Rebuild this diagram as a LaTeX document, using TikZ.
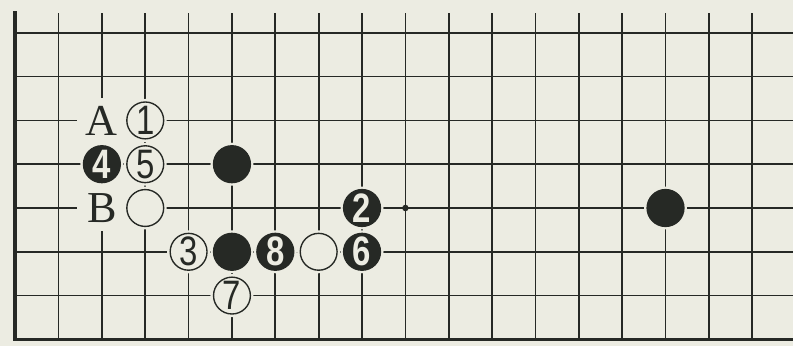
\documentclass[tikz,border=0pt]{standalone}
\usepackage{fontspec}
\newfontfamily\stonefont[FakeStretch=0.8]{Liberation Sans}
\newfontfamily\markfont{Liberation Serif}
\definecolor{paper}{HTML}{ECECE2}
\definecolor{ink}{HTML}{262925}

\tikzset{
  gridline/.style={ink, line width=1.1pt},
  edgeline/.style={ink, line width=2.2pt, line cap=rect},
  wstone/.style={circle, draw=ink, line width=0.9pt, fill=paper, inner sep=0pt,
    minimum size=0.85cm, text=ink,
    font=\stonefont\fontsize{27}{27}\selectfont,
    preaction={draw=paper, line width=4pt}},
  bstone/.style={wstone, fill=ink, text=paper,
    font=\stonefont\bfseries\fontsize{27}{27}\selectfont},
  pointmark/.style={fill=paper, inner sep=0pt, minimum width=1.15cm,
    minimum height=1.05cm, text=ink, font=\markfont\fontsize{29}{29}\selectfont},
}

\begin{document}
\begin{tikzpicture}[x=1cm, y=1.01cm]
\useasboundingbox[fill=paper] (-0.35,-0.16) rectangle (17.94,7.75);

% board lines
\foreach \c in {1,...,17}
  \draw[gridline] (\c,0) -- (\c,7.46);
\foreach \r in {1,...,7}
  \draw[gridline] (0,\r) -- (17.94,\r);
\draw[edgeline] (0,7.46) -- (0,0) -- (17.94,0);
\fill[ink] (9,3) circle (0.075);

% marked points
\node[pointmark] (ptA) at (2,5) {A};
\node[pointmark] (ptB) at (2,3) {B};

% stones already on the board
\node[bstone] (oldb1) at (5,4) {};
\node[bstone] (oldb2) at (5,2) {};
\node[bstone] (oldb3) at (15,3) {};
\node[wstone] (oldw1) at (3,3) {};
\node[wstone] (oldw2) at (7,2) {};

% moves
\node[wstone] (w1) at (3,5) {1};
\node[bstone] (b2) at (8,3) {2};
\node[wstone] (w3) at (4,2) {3};
\node[bstone] (b4) at (2,4) {4};
\node[wstone] (w5) at (3,4) {5};
\node[bstone] (b6) at (8,2) {6};
\node[wstone] (w7) at (5,1) {7};
\node[bstone] (b8) at (6,2) {8};
\end{tikzpicture}
\end{document}
